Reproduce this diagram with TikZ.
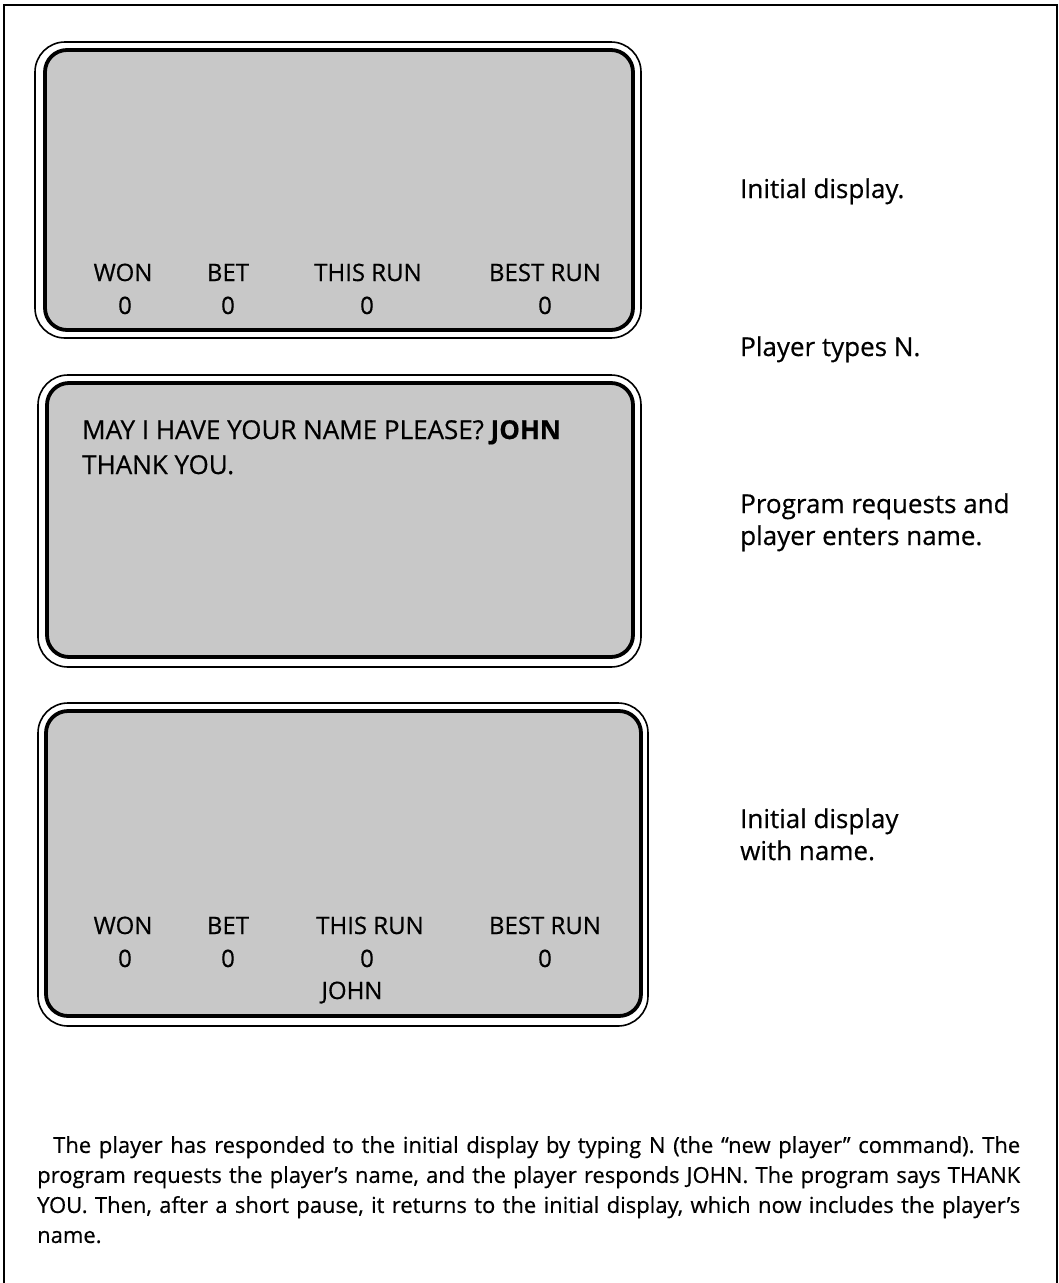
\documentclass[tikz,border=0pt]{standalone}
\usepackage{fontspec}
\setmainfont{Open Sans}[FakeBold=0.5]
\usetikzlibrary{positioning}
\definecolor{screencol}{HTML}{C8C8C8}

\begin{document}
\frenchspacing
\begin{tikzpicture}[
  x=1pt, y=-1pt,
  screenface/.style={draw, line width=3.8pt, fill=screencol, rounded corners=22pt},
  screenrim/.style={draw, line width=1.6pt, rounded corners=30pt},
  scrtext/.style={font=\fontsize{24}{28}\selectfont, anchor=base, inner sep=0pt},
  scrline/.style={scrtext, font=\fontsize{26}{28}\selectfont, anchor=base west},
  sidenote/.style={font=\fontsize{26}{30}\selectfont, anchor=base west, inner sep=0pt},
  bodytext/.style={font=\fontsize{22}{30}\selectfont, anchor=north west, inner sep=0pt,
                   text width=983pt, align=justify},
]
\useasboundingbox (0,0) rectangle (1059,1283);

% page frame, open at the bottom
\draw[line width=2.5pt] (4,1283) -- (4,5) -- (1057,5) -- (1057,1283);

% Screen one
\draw[screenrim]  (35,42) rectangle (641,338);
\draw[screenface] (45,50) rectangle (633,330);
\node[scrtext] (wonA)  at (123,281) {WON};
\node[scrtext] (betA)  at (228,281) {BET};
\node[scrtext] (thisA) at (368,281) {THIS RUN};
\node[scrtext] (bestA) at (545,281) {BEST RUN};
\node[scrtext] (wonAv)  at (125,314) {0};
\node[scrtext] (betAv)  at (228,314) {0};
\node[scrtext] (thisAv) at (367,314) {0};
\node[scrtext] (bestAv) at (545,314) {0};

% Screen two
\draw[screenrim]  (38,375) rectangle (641,667);
\draw[screenface] (47,383) rectangle (633,657);
\node[scrline] (askB) at (82,439) {MAY I HAVE YOUR NAME PLEASE? \textbf{JOHN}};
\node[scrline] (thxB) at (82,474) {THANK YOU.};

% Screen three
\draw[screenrim]  (38,703) rectangle (648,1026);
\draw[screenface] (46,711) rectangle (641,1016);
\node[scrtext] (wonC)  at (123,934) {WON};
\node[scrtext] (betC)  at (228,934) {BET};
\node[scrtext] (thisC) at (370,934) {THIS RUN};
\node[scrtext] (bestC) at (545,934) {BEST RUN};
\node[scrtext] (wonCv)  at (125,967) {0};
\node[scrtext] (betCv)  at (228,967) {0};
\node[scrtext] (thisCv) at (367,967) {0};
\node[scrtext] (bestCv) at (545,967) {0};
\node[scrtext] (nameC)  at (352,999) {JOHN};

% notes on the right
\node[sidenote] (noteA)  at (740,198) {Initial display.};
\node[sidenote] (noteB)  at (740,356) {Player types N.};
\node[sidenote] (noteC1) at (740,513) {Program requests and};
\node[sidenote] (noteC2) at (740,545) {player enters name.};
\node[sidenote] (noteD1) at (740,828) {Initial display};
\node[sidenote] (noteD2) at (740,860) {with name.};

% caption
\node[bodytext] (body) at (37,1136) {\hspace*{16pt}The player has responded to the initial display by typing N (the ``new player'' command). The\linebreak
program requests the player's name, and the player responds JOHN. The program says THANK\linebreak
YOU. Then, after a short pause, it returns to the initial display, which now includes the player's\linebreak
name.};

\end{tikzpicture}
\end{document}
